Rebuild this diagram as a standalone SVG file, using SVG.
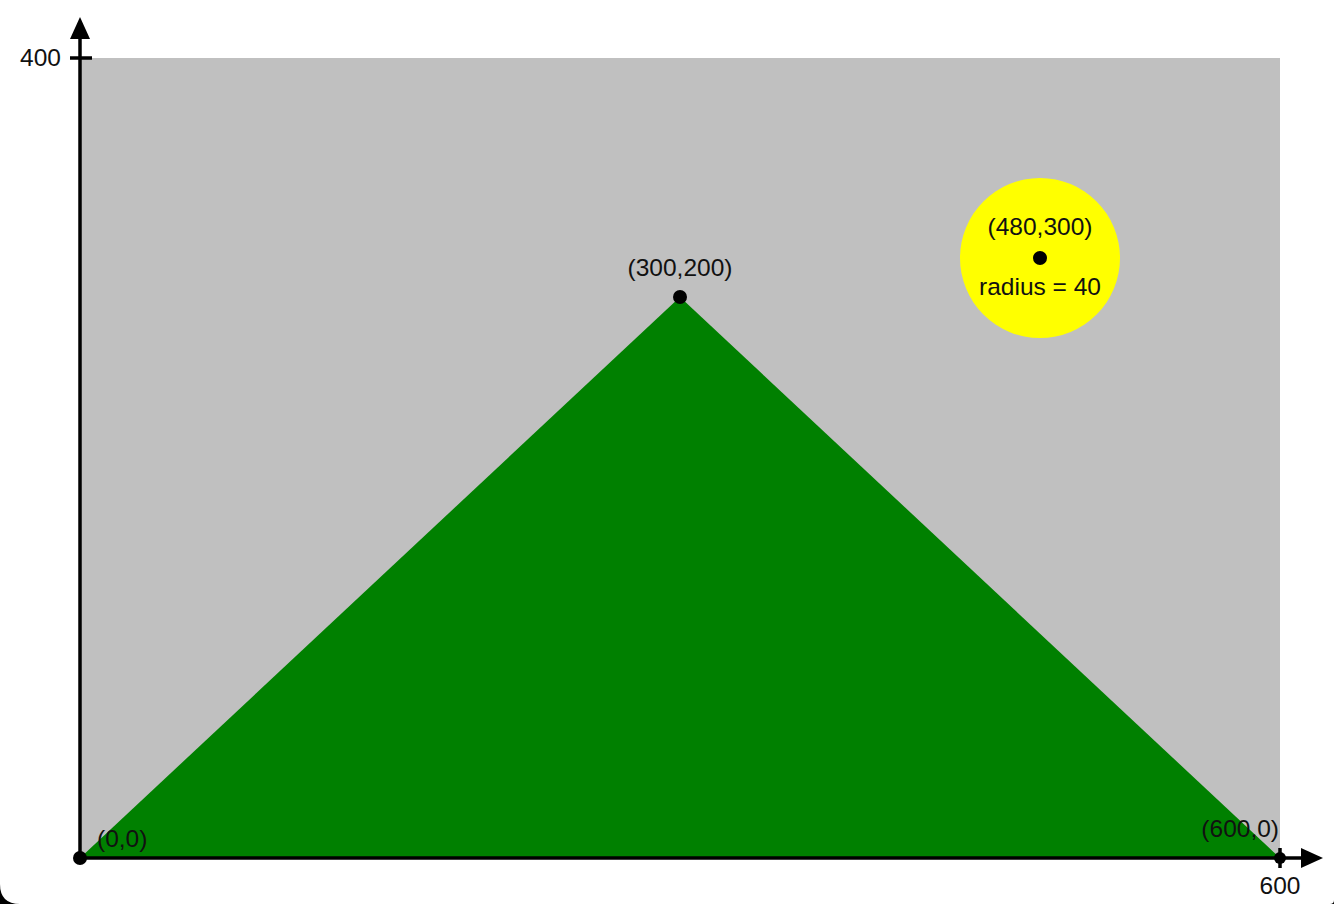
<svg xmlns="http://www.w3.org/2000/svg" width="1334" height="904" viewBox="0 0 1334 904">
  <style>
    text { font-family: "Liberation Sans", Arial, sans-serif; font-size: 24.5px; fill: #111; }
    .mid { text-anchor: middle; }
    .end { text-anchor: end; }
    .axis { stroke: #000; stroke-width: 3.5; fill: none; }
    .dot { fill: #000; }
  </style>
  <defs>
    <marker id="arrow" viewBox="0 0 22 20" refX="0" refY="10" markerWidth="22" markerHeight="20" markerUnits="userSpaceOnUse" orient="auto">
      <path d="M0,0 L22,10 L0,20 Z" fill="#000"/>
    </marker>
  </defs>
  <rect x="0" y="0" width="1334" height="904" fill="#000"/>
  <path d="M0,0 H1334 V900 Q1334,904 1330,904 H20 Q0,904 0,884 Z" fill="#fff"/>

  <g id="background">
    <rect x="80" y="58" width="1200" height="800" fill="#c0c0c0"/>
  </g>
  <g id="triangle">
    <polygon points="80,858 680,297 1280,858" fill="#008000"/>
  </g>
  <g id="circle">
    <circle cx="1040" cy="258" r="80" fill="#ffff00"/>
  </g>

  <g id="connectors">
    <line class="axis" x1="80" y1="858" x2="1301" y2="858" marker-end="url(#arrow)"/>
    <line class="axis" x1="80" y1="858" x2="80" y2="39" marker-end="url(#arrow)"/>
    <line class="axis" x1="70" y1="58" x2="92" y2="58" stroke-width="3"/>
    <line class="axis" x1="1280" y1="848" x2="1280" y2="868" stroke-width="3"/>
  </g>

  <g id="point-origin">
    <circle class="dot" cx="80" cy="858" r="7"/>
    <text x="97" y="847">(0,0)</text>
  </g>
  <g id="point-apex">
    <circle class="dot" cx="680" cy="297" r="7"/>
    <text class="mid" x="680" y="276">(300,200)</text>
  </g>
  <g id="point-right">
    <circle class="dot" cx="1280" cy="858" r="6"/>
    <text class="end" x="1279" y="837">(600,0)</text>
  </g>
  <g id="point-center">
    <circle class="dot" cx="1040" cy="258" r="7"/>
    <text class="mid" x="1040" y="235">(480,300)</text>
    <text class="mid" x="1040" y="295">radius = 40</text>
  </g>
  <g id="axis-labels">
    <text class="end" x="61" y="66">400</text>
    <text class="mid" x="1280" y="894">600</text>
  </g>
</svg>
